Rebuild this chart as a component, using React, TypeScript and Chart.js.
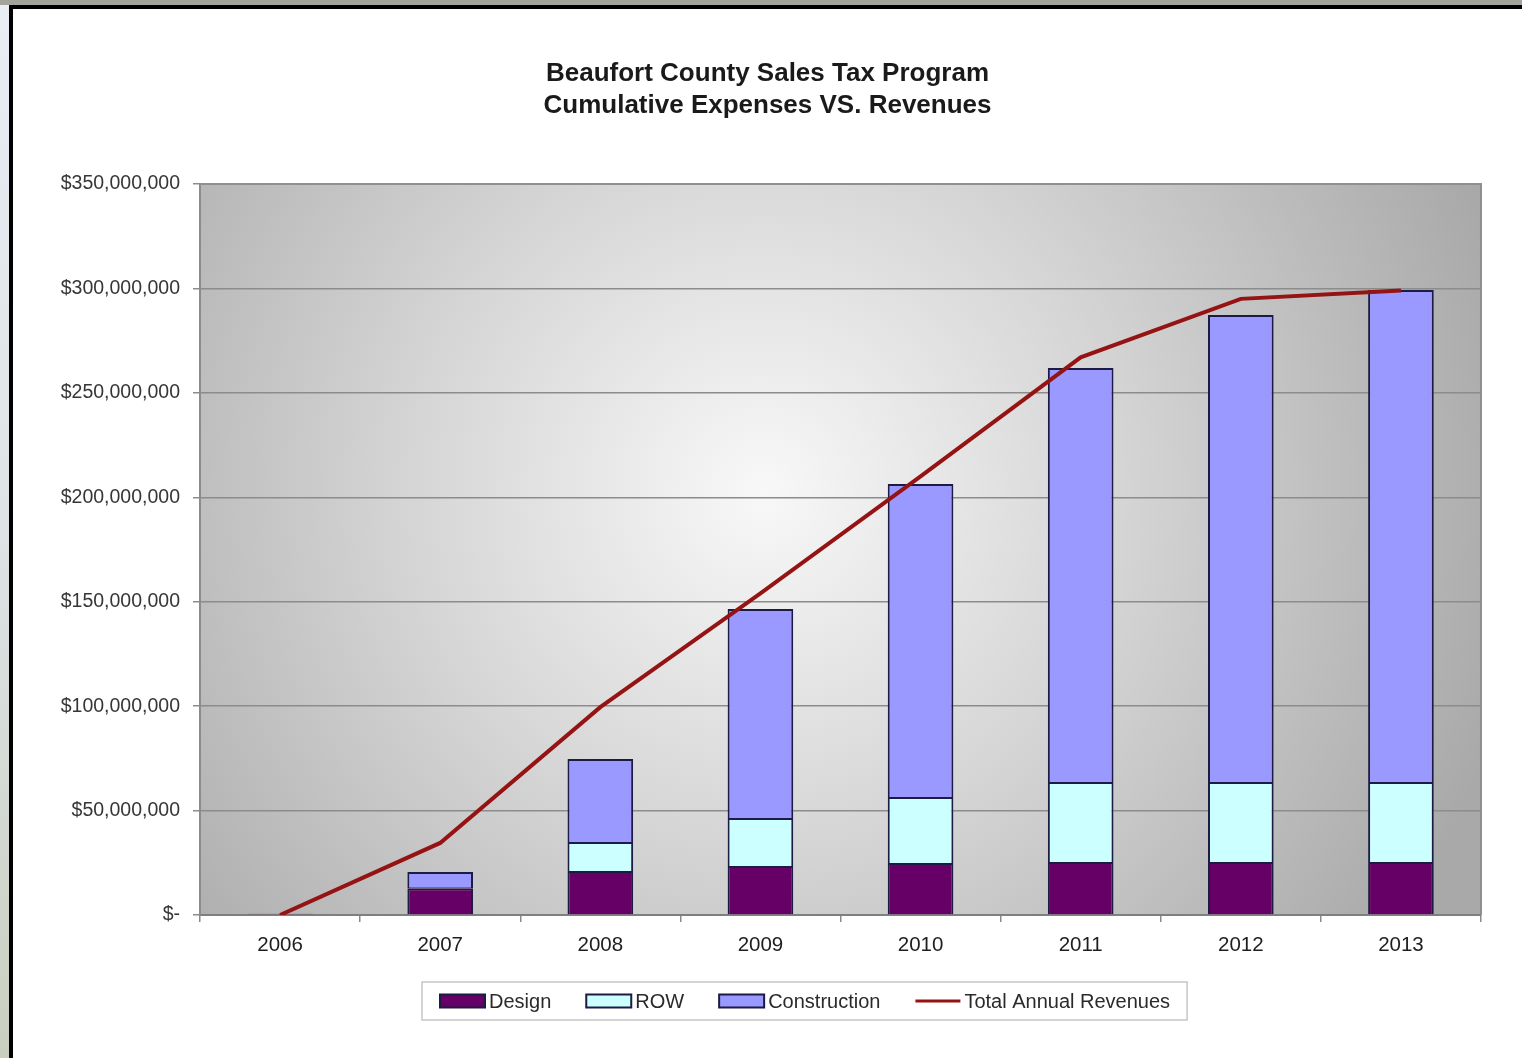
import React, { useEffect, useRef } from 'react';
import { Chart, registerables } from 'chart.js';

Chart.register(...registerables);

const years = ['2006', '2007', '2008', '2009', '2010', '2011', '2012', '2013'];
const design = [600000, 12800000, 21100000, 23500000, 24900000, 25400000, 25400000, 25400000];
const row = [0, 600000, 13900000, 22900000, 31600000, 38300000, 38300000, 38300000];
const construction = [0, 7200000, 39700000, 100100000, 149900000, 198200000, 223600000, 235500000];
const revenues = [0, 34500000, 99500000, 154000000, 210000000, 267000000, 295000000, 299000000];
const titleLines = ['Beaufort County Sales Tax Program', 'Cumulative Expenses VS. Revenues'];
const yMax = 350000000;
const yStep = 50000000;

const FONT = '"Liberation Sans", Arial, Helvetica, sans-serif';

const plotBg = {
  id: 'plotBg',
  beforeDraw(chart: any) {
    const { ctx, chartArea: a } = chart;
    ctx.save();
    const cx = a.left + a.width * 0.44;
    const cy = a.top + a.height * 0.42;
    const g = ctx.createRadialGradient(cx, cy, 0, cx, cy, a.width * 0.6);
    g.addColorStop(0, '#f8f8f8');
    g.addColorStop(0.45, '#d6d6d6');
    g.addColorStop(1, '#a9a9a9');
    ctx.fillStyle = g;
    ctx.fillRect(a.left, a.top, a.width, a.height);
    ctx.restore();
  },
  beforeDatasetsDraw(chart: any) {
    const { ctx, chartArea: a } = chart;
    ctx.save();
    ctx.strokeStyle = '#8f8f8f';
    ctx.lineWidth = 2;
    ctx.beginPath();
    ctx.moveTo(a.left, a.top);
    ctx.lineTo(a.right, a.top);
    ctx.lineTo(a.right, a.bottom);
    ctx.stroke();
    ctx.restore();
  },
};

const boxLegend = {
  id: 'boxLegend',
  afterDraw(chart: any) {
    const ctx = chart.ctx;
    ctx.save();
    ctx.font = '20px ' + FONT;
    const ds = chart.data.datasets;
    const boxW = 45, boxH = 13, textGap = 4, itemGap = 35, padL = 18, padR = 17;
    const widths = ds.map((d: any) => ctx.measureText(d.label).width);
    let total = padL + padR + itemGap * (ds.length - 1);
    widths.forEach((w: number) => { total += boxW + textGap + w; });
    const centerX = 792;
    const top = 973;
    const h = 38;
    let x = Math.round(centerX - total / 2);
    ctx.strokeStyle = '#c6c6c6';
    ctx.lineWidth = 1.5;
    ctx.strokeRect(x, top, total, h);
    const cy = top + h / 2;
    x += padL;
    ds.forEach((d: any, i: number) => {
      if (d.type === 'line') {
        ctx.strokeStyle = d.borderColor;
        ctx.lineWidth = 3;
        ctx.beginPath();
        ctx.moveTo(x, cy);
        ctx.lineTo(x + boxW, cy);
        ctx.stroke();
      } else {
        ctx.fillStyle = d.backgroundColor;
        ctx.fillRect(x, cy - boxH / 2, boxW, boxH);
        ctx.strokeStyle = d.borderColor;
        ctx.lineWidth = 2;
        ctx.strokeRect(x, cy - boxH / 2, boxW, boxH);
      }
      ctx.fillStyle = '#2a2a2a';
      ctx.textBaseline = 'middle';
      ctx.textAlign = 'left';
      ctx.fillText(d.label, x + boxW + textGap, cy + 1);
      x += boxW + textGap + widths[i] + itemGap;
    });
    ctx.restore();
  },
};

function fmt(v: number): string {
  if (v === 0) return '$-';
  return '$' + v.toLocaleString('en-US');
}

export default function App() {
  const ref = useRef<HTMLCanvasElement | null>(null);

  useEffect(() => {
    if (!ref.current) return;
    const barBorder = '#1b1b44';
    const chart = new Chart(ref.current, {
      type: 'bar',
      data: {
        labels: years,
        datasets: [
          {
            type: 'bar',
            label: 'Design',
            data: design,
            backgroundColor: '#660066',
            borderColor: barBorder,
            borderWidth: 2,
            stack: 'exp',
            order: 1,
          },
          {
            type: 'bar',
            label: 'ROW',
            data: row,
            backgroundColor: '#ccffff',
            borderColor: barBorder,
            borderWidth: 2,
            stack: 'exp',
            order: 1,
          },
          {
            type: 'bar',
            label: 'Construction',
            data: construction,
            backgroundColor: '#9999ff',
            borderColor: barBorder,
            borderWidth: 2,
            stack: 'exp',
            order: 1,
          },
          {
            type: 'line',
            label: 'Total Annual Revenues',
            data: revenues,
            borderColor: '#961313',
            backgroundColor: '#961313',
            borderWidth: 4,
            pointRadius: 0,
            tension: 0,
            stack: 'rev',
            order: 0,
          },
        ] as any,
      },
      options: {
        animation: false,
        responsive: true,
        maintainAspectRatio: false,
        layout: { padding: 0 },
        datasets: { bar: { barPercentage: 0.41, categoryPercentage: 1 } } as any,
        plugins: {
          legend: { display: false },
          tooltip: { enabled: false },
          title: {
            display: true,
            text: titleLines,
            color: '#1a1a1a',
            font: { family: FONT, size: 26, weight: 'bold', lineHeight: 32 / 26 },
            padding: { top: 49, bottom: 62 },
          },
        },
        scales: {
          x: {
            stacked: true,
            grid: {
              offset: true,
              drawOnChartArea: false,
              drawTicks: true,
              tickLength: 7,
              color: '#8a8a8a',
              lineWidth: 1.5,
            },
            border: { display: true, color: '#7f7f7f', width: 2 },
            ticks: {
              color: '#1e1e1e',
              font: { family: FONT, size: 20.5 },
              padding: 11,
              maxRotation: 0,
            },
            afterFit(scale: any) { scale.height = 143; },
          },
          y: {
            stacked: true,
            min: 0,
            max: yMax,
            grid: {
              color: '#8c8c8c',
              lineWidth: 1.5,
              tickLength: 7,
              drawTicks: true,
            },
            border: { display: true, color: '#8c8c8c', width: 2 },
            ticks: {
              stepSize: yStep,
              color: '#363636',
              font: { family: FONT, size: 19.5 },
              padding: 13,
              callback: (v: any) => fmt(Number(v)),
            },
            afterFit(scale: any) { scale.width = 187; },
          },
          yRight: {
            position: 'right',
            min: 0,
            max: yMax,
            grid: { display: false, drawOnChartArea: false },
            border: { display: false },
            ticks: { display: false },
            afterFit(scale: any) { scale.width = 41; },
          },
        },
      },
      plugins: [plotBg, boxLegend],
    });
    return () => chart.destroy();
  }, []);

  return (
    <div
      style={{
        position: 'fixed',
        left: 0,
        top: 0,
        width: 1522,
        height: 1058,
        overflow: 'hidden',
        background: 'linear-gradient(to bottom, #a3a59c 0px, #a3a59c 5px, #e9edf4 5px, #dde3e6 50%, #c9cfbf 100%)',
      }}
    >
      <div
        style={{
          position: 'absolute',
          left: 9,
          top: 5,
          width: 1540,
          height: 1100,
          background: '#ffffff',
          borderLeft: '4px solid #000000',
          borderTop: '4px solid #000000',
        }}
      />
      <div style={{ position: 'absolute', left: 13, top: 9, width: 1509, height: 1049 }}>
        <canvas ref={ref} />
      </div>
    </div>
  );
}
